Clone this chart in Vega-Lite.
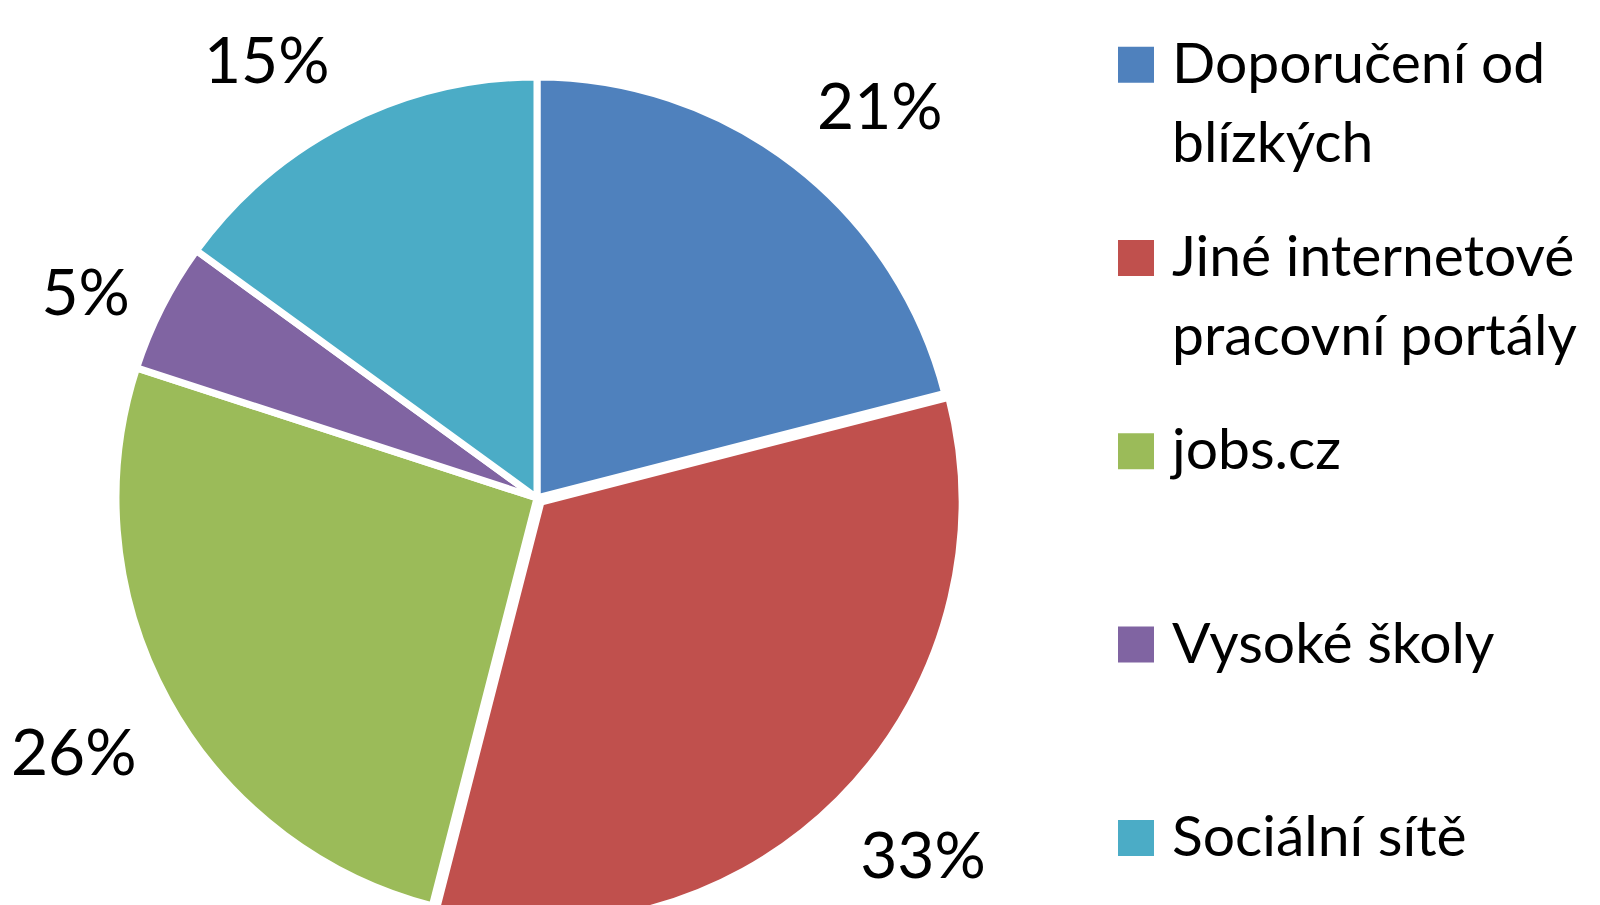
{
  "$schema": "https://vega.github.io/schema/vega-lite/v6.json",
  "padding": 0,
  "background": "white",
  "bounds": "flush",
  "spacing": 0,
  "config": {"view": {"stroke": null, "fill": "white"}, "font": "Lato"},
  "datasets": {
    "podily": [
      {"kategorie": "Doporučení od blízkých", "popisek": "Doporučení od\nblízkých", "poradi": 0, "podil": 0.21},
      {"kategorie": "Jiné internetové pracovní portály", "popisek": "Jiné internetové\npracovní portály", "poradi": 1, "podil": 0.33},
      {"kategorie": "jobs.cz", "popisek": "jobs.cz", "poradi": 2, "podil": 0.26},
      {"kategorie": "Vysoké školy", "popisek": "Vysoké školy", "poradi": 3, "podil": 0.05},
      {"kategorie": "Sociální sítě", "popisek": "Sociální sítě", "poradi": 4, "podil": 0.15}
    ]
  },
  "data": {"name": "podily"},
  "hconcat": [
    {
      "width": 1074,
      "height": 905,
      "view": {"clip": true},
      "layer": [
        {
          "mark": {
            "type": "arc",
            "outerRadius": 421,
            "stroke": "white",
            "strokeWidth": 7,
            "yOffset": {"expr": "datum.poradi == 1 ? 49.5 : 45.5"},
            "xOffset": {"expr": "datum.poradi == 1 ? 4 : 0"}
          },
          "encoding": {
            "theta": {"field": "podil", "type": "quantitative", "stack": true},
            "order": {"field": "poradi", "type": "quantitative"},
            "color": {
              "field": "kategorie",
              "type": "nominal",
              "scale": {
                "domain": ["Doporučení od blízkých", "Jiné internetové pracovní portály", "jobs.cz", "Vysoké školy", "Sociální sítě"],
                "range": ["#4F81BD", "#C0504D", "#9BBB59", "#8064A2", "#4BACC6"]
              },
              "legend": null
            }
          }
        },
        {
          "mark": {
            "type": "text",
            "radius": 457,
            "yOffset": 51,
            "fontSize": 64,
            "color": "black",
            "align": {"expr": "sin(PI * (datum.podil_start + datum.podil_end)) > 0 ? 'left' : 'right'"},
            "baseline": {"expr": "cos(PI * (datum.podil_start + datum.podil_end)) > 0.47 ? 'bottom' : (cos(PI * (datum.podil_start + datum.podil_end)) < -0.47 ? 'top' : 'middle')"}
          },
          "encoding": {
            "theta": {"field": "podil", "type": "quantitative", "stack": true},
            "order": {"field": "poradi", "type": "quantitative"},
            "text": {"field": "podil", "type": "quantitative", "format": ".0%"}
          }
        }
      ]
    },
    {
      "width": 124,
      "height": 905,
      "layer": [
        {
          "mark": {"type": "point", "shape": "square", "filled": true, "size": 1296, "opacity": 1, "strokeWidth": 0},
          "encoding": {
            "y": {"field": "poradi", "type": "quantitative", "scale": {"domain": [-0.3347, 4.347], "reverse": true}, "axis": null},
            "color": {
              "field": "kategorie",
              "type": "nominal",
              "scale": {
                "domain": ["Doporučení od blízkých", "Jiné internetové pracovní portály", "jobs.cz", "Vysoké školy", "Sociální sítě"],
                "range": ["#4F81BD", "#C0504D", "#9BBB59", "#8064A2", "#4BACC6"]
              },
              "legend": null
            }
          }
        },
        {
          "mark": {"type": "text", "align": "left", "baseline": "alphabetic", "dx": 36, "dy": 18, "fontSize": 57, "lineHeight": 79, "lineBreak": "\n", "color": "black"},
          "encoding": {
            "y": {"field": "poradi", "type": "quantitative", "scale": {"domain": [-0.3347, 4.347], "reverse": true}, "axis": null},
            "text": {"field": "popisek", "type": "nominal"}
          }
        }
      ]
    }
  ]
}
